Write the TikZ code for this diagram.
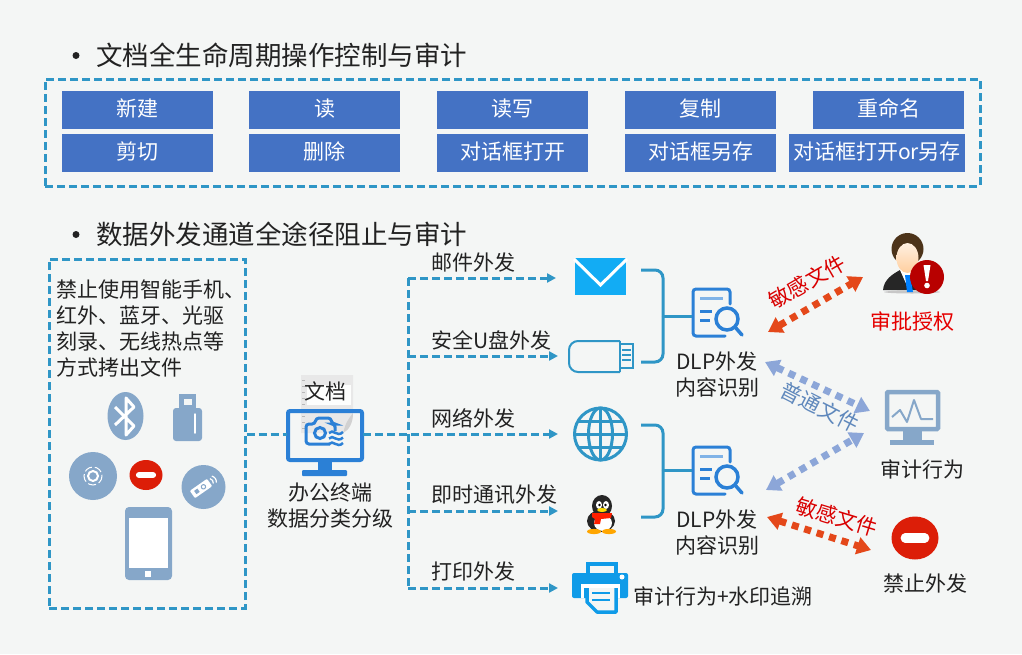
\documentclass[tikz,border=0pt]{standalone}
\usepackage{fontspec}
\setmainfont{Noto Sans CJK SC}
\usepackage{tikz}
\usetikzlibrary{arrows.meta}
\definecolor{pagebg}{HTML}{F4F6F5}
\definecolor{dashblue}{HTML}{2F96C6}
\definecolor{boxblue}{HTML}{4472C4}
\definecolor{iconblue}{HTML}{2B80D6}
\definecolor{skyblue}{HTML}{12ACF4}
\definecolor{printblue}{HTML}{0F9BE8}
\definecolor{greyblue}{HTML}{86A7C9}
\definecolor{softblue}{HTML}{8CA6D8}
\definecolor{labelblue}{HTML}{5F88BC}
\definecolor{stopred}{HTML}{DC1E08}
\definecolor{hotred}{HTML}{E4481A}
\definecolor{inkgrey}{HTML}{222222}
\tikzset{
    bigtext/.style={font=\fontsize{26.5}{30}\selectfont, text=inkgrey, inner sep=0pt},
    bodytext/.style={font=\fontsize{21}{26}\selectfont, text=inkgrey, inner sep=0pt, align=left},
    optbox/.style={fill=boxblue, minimum height=38pt, minimum width=151pt, inner sep=0pt, text=white,
        font=\fontsize{21}{24}\selectfont},
    dashbox/.style={draw=dashblue, line width=3pt, dash pattern=on 8pt off 4pt, inner sep=0pt},
    flowline/.style={draw=dashblue, line width=3pt, dash pattern=on 8pt off 4pt},
    flowarrow/.style={flowline, -{Triangle[length=9pt,width=9pt]}},
    bracketline/.style={draw=dashblue, line width=3pt, rounded corners=8pt},
    hotarrow/.style={draw=hotred, line width=7pt, dash pattern=on 7pt off 6pt,
        {Triangle[length=14pt,width=17pt]}-{Triangle[length=14pt,width=17pt]}},
    softarrow/.style={hotarrow, draw=softblue},
    hotlabel/.style={font=\fontsize{21}{24}\selectfont, text=red!85!black, inner sep=0pt},
}
\newcommand{\raisedtext}[1]{\raisebox{4pt}{#1}}
\newcommand{\stopicon}[3]{
    \fill[stopred] (#1) ellipse [x radius=#2, y radius=#3];
    \draw[white, line width=0.42*#3 pt, line cap=round] (#1) ++(-0.42*#2,0) -- ++(0.84*#2,0);
}
\newcommand{\dlpicon}[1]{
    \begin{scope}[shift={(#1)}]
        \draw[iconblue, line width=3pt, rounded corners=3pt, line cap=round] (13,-8) -- (13,-23) -- (-24,-23) -- (-24,24) -- (8,24);
        \draw[iconblue!60, line width=3pt] (-17,-14) -- (6,-14);
        \draw[iconblue, line width=3pt] (-17,-1) -- (-5,-1);
        \draw[iconblue, line width=3pt] (-17,8) -- (-7,8);
        \draw[iconblue, line width=3.5pt, fill=pagebg] (10,7) circle [radius=11];
        \draw[iconblue, line width=3.5pt, line cap=round] (18,15) -- (25,23);
    \end{scope}
}
\newcommand{\desktopicon}[1]{
    \begin{scope}[shift={(#1)}]
        % sheet behind the screen
        \fill[black!9] (-24,-60) -- (28,-60) -- (28,-24) .. controls (28,-12) and (24,-5) .. (18,-2) -- (-24,-2) -- cycle;
        \fill[white!85!pagebg] (-18,-50) rectangle (26,-30);
        \foreach \lineY in {-55,-49,-43,-37,-31,-25,-19,-13,-7}
            \draw[black!28, line width=0.8pt] (-23,\lineY) -- (-20,\lineY);
        \fill[black!18] (28,-22) .. controls (28,-12) and (24,-5) .. (18,-2) .. controls (20,-8) and (20,-12) .. (28,-22) -- cycle;
        \draw[iconblue, line width=4pt, rounded corners=2pt] (-37,-24) rectangle (37,25);
        \fill[iconblue] (-7,27) rectangle (7,35);
        \fill[iconblue, rounded corners=1pt] (-23,35) rectangle (22,41);
        % camera and waves on the screen
        \draw[iconblue, line width=3pt, rounded corners=3pt] (10,-4) -- (10,-11) -- (7,-11) -- (6,-17) -- (-9,-17) -- (-10,-11) -- (-19,-11) -- (-19,9) -- (5,9);
        \draw[iconblue, line width=3pt] (-5,-2) circle [radius=5.5];
        \foreach \waveY in {-2,3.5,9}
            \draw[iconblue, line width=2.5pt] (4,\waveY) .. controls (8,\waveY-5) and (12,\waveY+5) .. (18,\waveY-1);
    \end{scope}
}
\newcommand{\penguinicon}[1]{
    \begin{scope}[shift={(#1)}]
        \fill[black!85] (1,-10) ellipse [x radius=10, y radius=11];
        \fill[black!85] (0,5) ellipse [x radius=14, y radius=11];
        \fill[white] (2,7) ellipse [x radius=9, y radius=8];
        \fill[white] (-2,-11) ellipse [x radius=3, y radius=4];
        \fill[white] (5,-11) ellipse [x radius=3, y radius=4];
        \fill[black] (-1.5,-11) circle [radius=1.3];
        \fill[black] (4.5,-11) circle [radius=1.3];
        \fill[yellow!80!orange] (1,-6) ellipse [x radius=5, y radius=2];
        \fill[red!75!orange] (-9,-3) -- (11,-3) -- (10,2) -- (0,3) -- (-1,8) -- (-7,8) -- (-6,3) -- (-9,1) -- cycle;
        \fill[orange!70!yellow] (-7,15.5) ellipse [x radius=7, y radius=2.6];
        \fill[orange!70!yellow] (8,15.5) ellipse [x radius=7, y radius=2.6];
    \end{scope}
}
\begin{document}
\begin{tikzpicture}[x=1pt,y=-1pt]
    \useasboundingbox (0,0) rectangle (1022,654);
    \fill[pagebg] (0,0) rectangle (1022,654);

    % first heading and the operation boxes
    \fill[inkgrey] (76,55.5) circle [radius=3.5];
    \node[bigtext, anchor=west] (doctitle) at (96,55) {文档全生命周期操作控制与审计};
    \node[dashbox, minimum width=935pt, minimum height=107pt] (optframe) at (512.5,132.5) {};
    \node[optbox] (opta) at (137.5,110) {\raisedtext{新建}};
    \node[optbox] (optb) at (324.5,110) {\raisedtext{读}};
    \node[optbox] (optc) at (512.5,110) {\raisedtext{读写}};
    \node[optbox] (optd) at (700.5,110) {\raisedtext{复制}};
    \node[optbox] (opte) at (888.5,110) {\raisedtext{重命名}};
    \node[optbox] (optf) at (137.5,153) {\raisedtext{剪切}};
    \node[optbox] (optg) at (324.5,153) {\raisedtext{删除}};
    \node[optbox] (opth) at (512.5,153) {\raisedtext{对话框打开}};
    \node[optbox] (opti) at (700.5,153) {\raisedtext{对话框另存}};
    \node[optbox, minimum width=176pt] (optj) at (877,153) {\raisedtext{对话框打开or另存}};

    % second heading and the blocked channels
    \fill[inkgrey] (76,234.5) circle [radius=3.5];
    \node[bigtext, anchor=west] (chantitle) at (96,234) {数据外发通道全途径阻止与审计};
    \node[dashbox, minimum width=196pt, minimum height=349pt] (blockframe) at (147,433.5) {};
    \node[bodytext, anchor=north west] (blocktext) at (56,280) {禁止使用智能手机、\\红外、蓝牙、光驱\\刻录、无线热点等\\方式拷出文件};

    % bluetooth
    \fill[greyblue] (125.5,416) ellipse [x radius=18, y radius=24];
    \draw[white, line width=3pt, line join=round] (115,407) -- (134,426) -- (126,435) -- (126,398) -- (134,407) -- (115,425);
    % usb stick
    \fill[greyblue] (179,394) rectangle (196,410);
    \fill[pagebg] (184,399) rectangle (192,405);
    \fill[greyblue, rounded corners=3pt] (173,408) rectangle (202,441);
    \draw[white, line width=1.5pt, line cap=round] (195,414) -- (195,433);
    % disc
    \fill[greyblue] (93,476) circle [radius=24];
    \draw[white, line width=1pt, dash pattern=on 8pt off 3pt] (93,476) circle [radius=9];
    \draw[white, line width=2pt] (93,476) circle [radius=5];
    \coordinate (stopa) at (146,475);
    \stopicon{stopa}{16.5}{15}
    % infrared remote
    \fill[greyblue] (203.5,487) circle [radius=22];
    \begin{scope}[shift={(201,488.5)}, rotate=35]
        \fill[white, rounded corners=1pt] (-10.5,-4.5) rectangle (10.5,4.5);
        \fill[greyblue] (-7,-2) rectangle (-3,2);
        \draw[greyblue, line width=1pt] (3,0) circle [radius=2.2];
        \draw[white, line width=1.2pt] (13,-3) .. controls (14.5,-1) and (14.5,1) .. (13,3);
        \draw[white, line width=1.2pt] (16,-4) .. controls (18,-1) and (18,1) .. (16,4);
    \end{scope}
    % phone
    \fill[greyblue, rounded corners=4pt] (125,507) rectangle (172,580);
    \fill[white] (129,518) rectangle (168,568);
    \fill[white] (145,571) rectangle (151,577);

    % office terminal
    \coordinate (desk) at (325,435);
    \desktopicon{desk}
    \node[bodytext] (doclabel) at (325,391) {文档};
    \node[bodytext, align=center, anchor=north] (desklabel) at (330,483) {办公终端\\数据分类分级};

    % outgoing channels
    \coordinate (deskin) at (287,434);
    \coordinate (deskout) at (363,434);
    \coordinate (trunktop) at (408,278);
    \coordinate (trunkmid) at (408,356);
    \coordinate (trunkqq) at (408,511);
    \coordinate (trunkbot) at (408,588);
    \coordinate (mailin) at (556,278);
    \coordinate (usbin) at (558,356);
    \coordinate (webin) at (558,434);
    \coordinate (qqin) at (558,511);
    \coordinate (printin) at (558,588);
    \draw[flowline] (blockframe.east |- deskin) -- (deskin);
    \draw[flowarrow] (deskout) -- (webin);
    \draw[flowarrow] (trunkbot) -- (printin);
    \draw[flowarrow] (trunkqq) -- (qqin);
    \draw[flowarrow] (trunkmid) -- (usbin);
    \draw[flowarrow] (trunktop) -- (mailin);
    \draw[flowline] (trunktop) -- (trunkbot);
    \node[bodytext, anchor=west] (maillabel) at (431,263) {邮件外发};
    \node[bodytext, anchor=west] (usblabel) at (431,340) {安全U盘外发};
    \node[bodytext, anchor=west] (weblabel) at (431,418) {网络外发};
    \node[bodytext, anchor=west] (qqlabel) at (431,495) {即时通讯外发};
    \node[bodytext, anchor=west] (printlabel) at (431,571) {打印外发};

    % mail
    \fill[skyblue] (575,258) rectangle (626,295);
    \draw[white, line width=3pt] (574,259) -- (600.5,285) -- (627,259);
    % usb disk
    \draw[dashblue, line width=2pt, rounded corners=9pt] (620,341) -- (569,341) -- (569,372) -- (620,372);
    \draw[dashblue, line width=2pt] (620,341) -- (620,372);
    \draw[dashblue, line width=2pt] (620,344) rectangle (633,368);
    \foreach \barY in {350,355,360}
        \draw[dashblue, line width=1.5pt] (622,\barY) -- (631,\barY);
    % globe
    \draw[dashblue, line width=3pt] (600.5,434) circle [radius=26];
    \draw[dashblue, line width=3pt] (600.5,434) ellipse [x radius=12, y radius=26];
    \draw[dashblue, line width=3pt] (600.5,408) -- (600.5,460);
    \draw[dashblue, line width=3pt] (574.5,434) -- (626.5,434);
    \draw[dashblue, line width=3pt] (578,421) -- (623,421);
    \draw[dashblue, line width=3pt] (578,447) -- (623,447);
    \coordinate (penguin) at (601,516);
    \penguinicon{penguin}
    % printer
    \draw[printblue, line width=3.5pt] (588,575) -- (588,564) -- (616,564) -- (616,575);
    \fill[printblue, rounded corners=2pt] (572,573) rectangle (628,598);
    \fill[white] (581,584) rectangle (620,588);
    \fill[white] (581,588) rectangle (584,598);
    \fill[white] (617,588) rectangle (620,598);
    \fill[pagebg] (588,588) rectangle (615,611);
    \draw[printblue, line width=3.5pt, line join=round] (587,588) -- (587,602) -- (597,612) -- (616,612) -- (616,588);
    \draw[printblue, line width=2.5pt] (592,593) -- (610,593);
    \draw[printblue, line width=2.5pt] (592,600) -- (610,600);
    \fill[white] (622,577) circle [radius=2.5];
    \node[bodytext, anchor=west] (printnote) at (633,596) {审计行为+水印追溯};

    % content inspection
    \coordinate (dlpa) at (717,312);
    \coordinate (dlpb) at (717,470);
    \dlpicon{dlpa}
    \dlpicon{dlpb}
    \coordinate (joina) at (663,316);
    \coordinate (joinb) at (663,470);
    \coordinate (dlpina) at (692,316);
    \coordinate (dlpinb) at (692,470);
    \coordinate (mailend) at (641,270);
    \coordinate (usbend) at (641,362);
    \coordinate (webend) at (641,425);
    \coordinate (qqend) at (641,517);
    \draw[bracketline] (mailend) -| (joina);
    \draw[bracketline] (usbend) -| (joina);
    \draw[bracketline] (joina) -- (dlpina);
    \draw[bracketline] (webend) -| (joinb);
    \draw[bracketline] (qqend) -| (joinb);
    \draw[bracketline] (joinb) -- (dlpinb);
    \node[bodytext, align=center, anchor=north] (dlplabela) at (717,352) {DLP外发\\内容识别};
    \node[bodytext, align=center, anchor=north] (dlplabelb) at (717,510) {DLP外发\\内容识别};

    % approval
    \fill[black!22] (912,292) ellipse [x radius=28, y radius=1.5];
    \fill[black!85] (883,290) .. controls (884,279) and (893,274) .. (900,270) -- (916,270) .. controls (925,273) and (935,280) .. (936,290) -- cycle;
    \fill[white] (900,270) -- (915,270) -- (908,288) -- cycle;
    \fill[blue!50!cyan] (905,275) -- (910,275) -- (913,292) -- (907,292) -- cycle;
    \fill[black!60!brown] (907.5,249) ellipse [x radius=16, y radius=16];
    \shade[top color=orange!12!white, bottom color=orange!38!white] (907.5,258) ellipse [x radius=11, y radius=15];
    \fill[red!72!black] (927,277) circle [radius=17];
    \fill[white] (923.5,265) -- (930.5,265) -- (928,281) -- (926,281) -- cycle;
    \fill[white] (927,285.5) circle [radius=2.8];
    \node[bodytext, text=red!90!black] (approvelabel) at (912,321) {审批授权};

    % audit monitor
    \draw[greyblue, line width=4.5pt, rounded corners=1pt] (887,392) rectangle (938,429);
    \fill[greyblue] (903,431) rectangle (922,440);
    \fill[greyblue] (890,440) rectangle (934,444.5);
    \draw[greyblue, line width=2pt, line join=round] (892,417) -- (900,410) -- (907,422) -- (914,400) -- (921,419) -- (933,419);
    \node[bodytext] (auditlabel) at (922,469) {审计行为};

    % blocked sending
    \coordinate (stopb) at (915,538);
    \stopicon{stopb}{23.5}{21.5}
    \node[bodytext] (stoplabel) at (925,583) {禁止外发};

    % sensitivity arrows
    \coordinate (arrowaa) at (768,332);
    \coordinate (arrowab) at (863,277);
    \coordinate (arrowba) at (765,362);
    \coordinate (arrowbb) at (870,411);
    \coordinate (arrowca) at (766,490);
    \coordinate (arrowcb) at (864,433);
    \coordinate (arrowda) at (767,517);
    \coordinate (arrowdb) at (871,550);
    \draw[hotarrow] (arrowaa) -- (arrowab);
    \draw[softarrow] (arrowba) -- (arrowbb);
    \draw[softarrow] (arrowca) -- (arrowcb);
    \draw[hotarrow] (arrowda) -- (arrowdb);
    \node[hotlabel, rotate=30] (hotlabela) at (807,282) {敏感文件};
    \node[hotlabel, rotate=-27, text=labelblue] (softlabel) at (820,407) {普通文件};
    \node[hotlabel, rotate=-17] (hotlabelb) at (837,517) {敏感文件};
\end{tikzpicture}
\end{document}
